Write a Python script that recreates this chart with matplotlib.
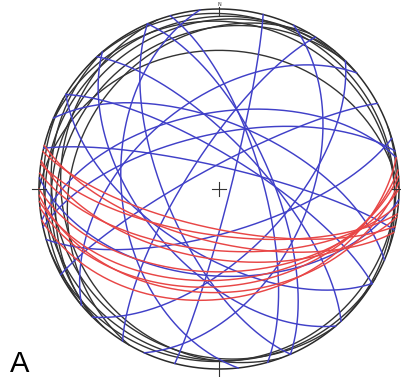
import numpy as np
import matplotlib
matplotlib.use("Agg")
import matplotlib.pyplot as plt

# stereonet, lower hemisphere equal-area
# planes as (strike RHR, dip)
blue_strikes = [156.6, 336.6, 14.2, 24.5, 301.7, 121.7, 73.7, 241.6, 44.6, 212.4,
                283.1, 139.6, 173.9, 229.8, 293.2, 317.3, 93.5, 257.8, 344.3, 260.0]
blue_dips = [66, 66, 85, 49, 75, 60, 70, 80, 60, 75,
             80, 55, 45, 50, 60, 70, 50, 65, 70, 55]

red_strikes = [102, 98, 104, 95, 99, 90, 86, 84, 88, 80]
red_dips = [72, 69, 66, 62, 58, 52, 48, 45, 42, 39]

# black: shallow planes (dip direction, dip)
black_dipdirs = [0, 315, 310, 320, 300, 230, 210, 250, 20, 45, 160]
black_dips = [24, 15, 10, 6, 20, 10, 6, 14, 8, 4, 5]


def great_circle(strike, dip, n=200):
    s = np.radians(strike)
    dd = np.radians(strike + 90)
    d = np.radians(dip)
    t = np.linspace(0, np.pi, n)
    sv = np.array([np.sin(s), np.cos(s), 0.0])
    dv = np.array([np.sin(dd) * np.cos(d), np.cos(dd) * np.cos(d), np.sin(d)])
    v = np.outer(np.cos(t), sv) + np.outer(np.sin(t), dv)
    plunge = np.arcsin(np.clip(v[:, 2], -1, 1))
    trend = np.arctan2(v[:, 0], v[:, 1])
    r = np.sqrt(2) * np.sin((np.pi / 2 - plunge) / 2)
    return r * np.sin(trend), r * np.cos(trend)


fig = plt.figure(figsize=(4.01, 3.77), dpi=100)
ax = fig.add_axes([0, 0, 1, 1])
ax.set_xlim(-219 / 180, (401 - 219) / 180)
ax.set_ylim((189 - 377) / 180, 189 / 180)
ax.axis("off")

th = np.linspace(0, 2 * np.pi, 400)
ax.plot(np.cos(th), np.sin(th), color="#2a2a2a", lw=1.1)

for ddir, dp in zip(black_dipdirs, black_dips):
    x, y = great_circle(ddir - 90, dp)
    ax.plot(x, y, color="#333333", lw=1.0)

for st, dp in zip(blue_strikes, blue_dips):
    x, y = great_circle(st, dp)
    ax.plot(x, y, color="#4040c8", lw=1.05)

for st, dp in zip(red_strikes, red_dips):
    x, y = great_circle(st, dp)
    ax.plot(x, y, color="#e84646", lw=1.05)

# ticks
k = 0.04
ax.plot([-k, k], [0, 0], color="#333333", lw=0.8)
ax.plot([0, 0], [-k, k], color="#333333", lw=0.8)
ax.plot([0, 0], [1 - k, 1.01], color="#333333", lw=0.8)
ax.plot([0, 0], [-1 - k, -1 + k], color="#333333", lw=0.8)
ax.plot([-1 - k, -1 + k], [0, 0], color="#333333", lw=0.8)
ax.plot([1 - k, 1 + k], [0, 0], color="#333333", lw=0.8)
ax.text(0, 1.012, "N", ha="center", va="bottom", fontsize=3.5, color="#333333")

ax.text(-1.16, -0.97, "A", fontsize=21, family="Liberation Sans",
        ha="left", va="center")

fig.savefig("out.png", dpi=100)
